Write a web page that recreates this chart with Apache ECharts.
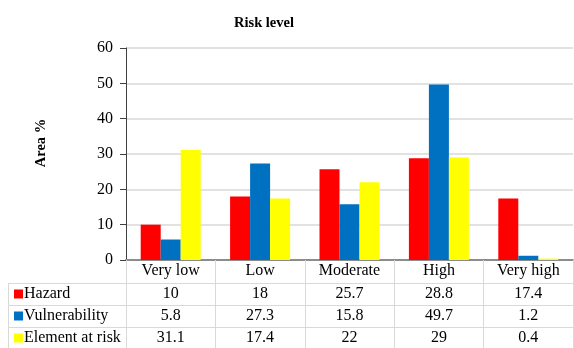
<!DOCTYPE html>
<html>
<head>
<meta charset="utf-8">
<script src="https://cdn.jsdelivr.net/npm/echarts@6/dist/echarts.min.js"></script>
<style>html,body{margin:0;padding:0;background:#fff;}#c{width:574px;height:348px;}</style>
</head>
<body>
<div id="c"></div>
<script>
var categories = ['Very low', 'Low', 'Moderate', 'High', 'Very high'];
var hazard = [10, 18, 25.7, 28.8, 17.4];
var vulnerability = [5.8, 27.3, 15.8, 49.7, 1.2];
var elementAtRisk = [31.1, 17.4, 22, 29, 0.4];
var seriesNames = ['Hazard', 'Vulnerability', 'Element at risk'];
var yTicks = { min: 0, max: 60, interval: 10 };

var FONT = '"Liberation Serif", "Times New Roman", serif';
var colors = ['#ff0000', '#0070c0', '#ffff00'];
var gridLine = '#d9d9d9';
var rowH = 22;

var chart = echarts.init(document.getElementById('c'));

function rowAxis(values, offset, len) {
  return {
    type: 'category', gridIndex: 0, position: 'bottom', offset: offset,
    data: values.map(String),
    axisLine: { show: true, lineStyle: { color: gridLine, width: 1 } },
    axisTick: { show: true, length: len, lineStyle: { color: gridLine, width: 1 } },
    axisLabel: { margin: 3, fontFamily: FONT, fontSize: 16, color: '#000', lineHeight: 16, interval: 0 },
    splitLine: { show: false }
  };
}

function legendRow(name, top) {
  return {
    orient: 'vertical', left: 14, top: top, padding: 0,
    itemWidth: 9, itemHeight: 9, icon: 'rect',
    data: [name],
    textStyle: { fontFamily: FONT, fontSize: 16, color: '#000', lineHeight: 16, padding: [0, 0, 0, -4] },
    selectedMode: false
  };
}

var option = {
  backgroundColor: '#fff',
  animation: false,
  color: colors,
  title: {
    text: 'Risk level', left: 229, top: 11,
    textStyle: { fontFamily: FONT, fontSize: 14.5, fontWeight: 'bold', color: '#000' }
  },
  legend: [
    legendRow(seriesNames[0], 286),
    legendRow(seriesNames[1], 308),
    legendRow(seriesNames[2], 330)
  ],
  grid: { left: 126, right: 1, top: 48, bottom: 88 },
  yAxis: {
    type: 'value', min: yTicks.min, max: yTicks.max, interval: yTicks.interval,
    name: 'Area %', nameLocation: 'middle', nameRotate: 90, nameGap: 77,
    nameTextStyle: { fontFamily: FONT, fontSize: 14.5, fontWeight: 'bold', color: '#000', padding: [0, 0, 0, 22] },
    axisLine: { show: true, lineStyle: { color: '#404040', width: 1 } },
    axisTick: { show: true, length: 6, lineStyle: { color: '#404040' } },
    axisLabel: { margin: 13, fontFamily: FONT, fontSize: 16, color: '#000' },
    splitLine: { show: true, lineStyle: { color: gridLine, width: 1.5 } }
  },
  xAxis: [
    {
      type: 'category', gridIndex: 0, position: 'bottom', data: categories,
      axisLine: { show: true, lineStyle: { color: '#8c8c8c', width: 2 } },
      axisTick: { show: true, length: 23, lineStyle: { color: gridLine, width: 1 } },
      axisLabel: { margin: 3, fontFamily: FONT, fontSize: 16, color: '#000', lineHeight: 16, interval: 0 },
      splitLine: { show: false }
    },
    rowAxis(hazard, 23, rowH),
    rowAxis(vulnerability, 45, rowH),
    rowAxis(elementAtRisk, 67, 22)
  ],
  series: [
    { name: seriesNames[0], type: 'bar', xAxisIndex: 0, data: hazard, barWidth: 20, barGap: 0 },
    { name: seriesNames[1], type: 'bar', xAxisIndex: 0, data: vulnerability, barWidth: 20, barGap: 0 },
    { name: seriesNames[2], type: 'bar', xAxisIndex: 0, data: elementAtRisk, barWidth: 20, barGap: 0 }
  ],
  graphic: [
    { type: 'line', shape: { x1: 8, y1: 283.5, x2: 126, y2: 283.5 }, style: { stroke: gridLine, lineWidth: 1 } },
    { type: 'line', shape: { x1: 8, y1: 305.5, x2: 126, y2: 305.5 }, style: { stroke: gridLine, lineWidth: 1 } },
    { type: 'line', shape: { x1: 8, y1: 327.5, x2: 126, y2: 327.5 }, style: { stroke: gridLine, lineWidth: 1 } },
    { type: 'line', shape: { x1: 8.5, y1: 283, x2: 8.5, y2: 348 }, style: { stroke: gridLine, lineWidth: 1 } }
  ]
};
chart.setOption(option);
</script>
</body>
</html>
